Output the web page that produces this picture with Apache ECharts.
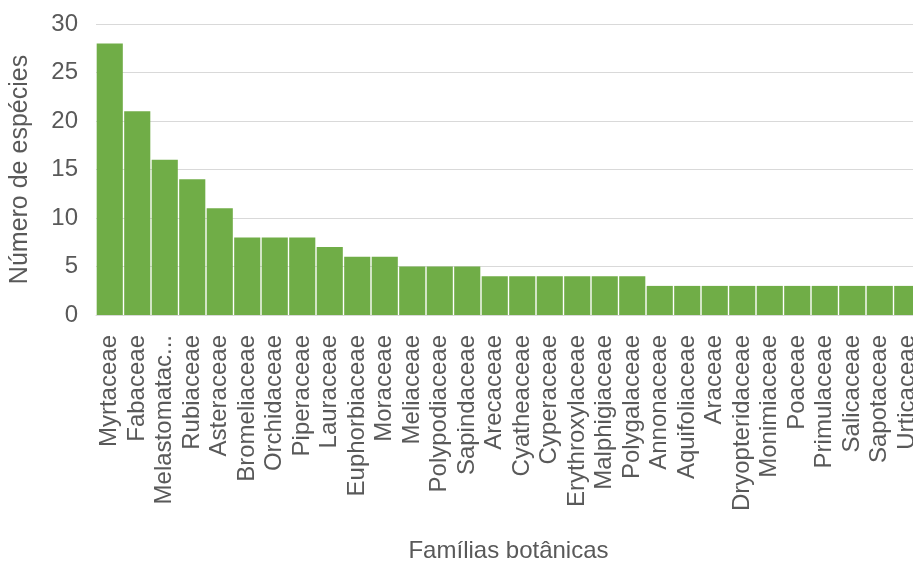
<!DOCTYPE html>
<html>
<head>
<meta charset="utf-8">
<script src="https://cdn.jsdelivr.net/npm/echarts@6/dist/echarts.min.js"></script>
<style>
  html, body { margin: 0; padding: 0; background: #fff; }
  #chart { width: 913px; height: 562px; }
</style>
</head>
<body>
<div id="chart"></div>
<script>
var families = [
  'Myrtaceae', 'Fabaceae', 'Melastomataceae', 'Rubiaceae', 'Asteraceae',
  'Bromeliaceae', 'Orchidaceae', 'Piperaceae', 'Lauraceae', 'Euphorbiaceae',
  'Moraceae', 'Meliaceae', 'Polypodiaceae', 'Sapindaceae', 'Arecaceae',
  'Cyatheaceae', 'Cyperaceae', 'Erythroxylaceae', 'Malphigiaceae', 'Polygalaceae',
  'Annonaceae', 'Aquifoliaceae', 'Araceae', 'Dryopteridaceae', 'Monimiaceae',
  'Poaceae', 'Primulaceae', 'Salicaceae', 'Sapotaceae', 'Urticaceae'
];
var speciesCount = [
  28, 21, 16, 14, 11,
  8, 8, 8, 7, 6,
  6, 5, 5, 5, 4,
  4, 4, 4, 4, 4,
  3, 3, 3, 3, 3,
  3, 3, 3, 3, 3
];

var chartDom = document.getElementById('chart');
var myChart = echarts.init(chartDom, null, { renderer: 'canvas' });
var textColor = '#595959';
var font = 'Liberation Sans, Arial, sans-serif';

// the plot runs a little past the right edge, like the cropped original
var option = {
  animation: false,
  grid: {
    left: 96, right: -8, top: 24, bottom: 247,
    containLabel: false,
    outerBoundsMode: 'none'
  },
  xAxis: {
    type: 'category',
    data: families,
    name: 'Famílias botânicas',
    nameLocation: 'middle',
    nameGap: 224,
    nameTextStyle: { color: textColor, fontSize: 24, fontFamily: font },
    axisLine: { lineStyle: { color: '#d9d9d9', width: 1 } },
    axisTick: { show: false },
    axisLabel: {
      interval: 0,
      rotate: 90,
      margin: 20,
      color: textColor,
      fontSize: 24,
      fontFamily: font,
      width: 180,
      overflow: 'truncate',
      ellipsis: '...'
    }
  },
  yAxis: {
    type: 'value',
    min: 0,
    max: 30,
    interval: 5,
    name: 'Número de espécies',
    nameLocation: 'middle',
    nameGap: 63,
    nameTextStyle: { color: textColor, fontSize: 25, fontFamily: font },
    axisLine: { show: false },
    axisTick: { show: false },
    axisLabel: { color: textColor, fontSize: 24, fontFamily: font, margin: 18 },
    splitLine: { lineStyle: { color: '#d9d9d9', width: 1 } }
  },
  series: [
    {
      type: 'bar',
      data: speciesCount,
      barCategoryGap: '5%',
      itemStyle: { color: '#70ad47' }
    }
  ]
};

option && myChart.setOption(option);
</script>
</body>
</html>
